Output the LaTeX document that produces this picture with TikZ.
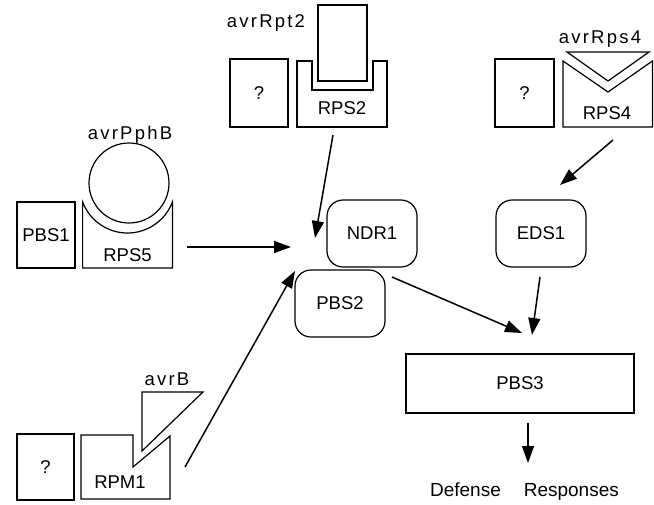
\documentclass[tikz,border=0pt]{standalone}
\usepackage{fontspec}
\setmainfont{Liberation Sans}
\newfontfamily\avrfont[LetterSpace=12]{Liberation Sans}
\usetikzlibrary{arrows.meta}
\begin{document}
\begin{tikzpicture}[x=1pt,y=-1pt, line width=1.2pt,
  every node/.style={font=\fontsize{18.5}{20}\selectfont, inner sep=0pt, outer sep=0pt},
  box/.style={draw, rectangle},
  rbox/.style={draw, rounded corners=16pt, minimum width=90pt, minimum height=67pt},
  avr/.style={font=\fontsize{18.5}{20}\selectfont\avrfont, anchor=base},
  arr/.style={-{Triangle[length=17pt,width=12pt]}, line width=1.5pt}]
\useasboundingbox (0,0) rectangle (654,504);

% plain boxes
\node[box, minimum width=58pt, minimum height=68pt] (q1) at (259,93) {?};
\node[box, minimum width=59pt, minimum height=68pt] (q2) at (524.5,93) {?};
\node[box, minimum width=57pt, minimum height=66pt] (q3) at (45.5,467) {?};
\node[box, minimum width=58pt, minimum height=66pt] (pbs1) at (46,235) {PBS1};
\node[box, minimum width=49pt, minimum height=76pt] (rpt2) at (342.5,43) {};
\node[box, minimum width=228pt, minimum height=59pt] (pbs3) at (520,383.5) {PBS3};

% rounded boxes
\node[rbox] (ndr1) at (372,233.5) {NDR1};
\node[rbox] (pbs2) at (340,303.5) {PBS2};
\node[rbox] (eds1) at (541,233.5) {EDS1};

% RPS2 receptor (U shape)
\draw (297,61) -- (297,127) -- (387,127) -- (387,61) -- (373,61) -- (373,90) -- (312,90) -- (312,61) -- cycle;
\node (rps2) at (342,108) {RPS2};
\node[avr] (lrpt2) at (266,27) {avrRpt2};

% RPS4 receptor (V notch)
\draw (563,61) -- (608,92) -- (652.4,61) -- (652.4,127) -- (563,127) -- cycle;
\draw (567,52) -- (649,52) -- (608,81) -- cycle;
\node (rps4) at (607,113) {RPS4};
\node[avr] (lrps4) at (600,43) {avrRps4};

% RPS5 receptor (cup) with avrPphB
\node[draw, circle, minimum size=80pt] (pph) at (129,183) {};
\draw (172.4,268) -- (172.4,202) arc[start angle=339.3, end angle=200.7, radius=48pt] -- (82.6,268) -- cycle;
\node (rps5) at (127.5,255) {RPS5};
\node[avr] (lpph) at (130,139.5) {avrPphB};

% RPM1 receptor with avrB
\draw (81,435) -- (133,435) -- (133,467) -- (170,436) -- (170,499) -- (81,499) -- cycle;
\draw (142,392) -- (203,392) -- (142,451) -- cycle;
\node (rpm1) at (120,482) {RPM1};
\node[avr] (lavrb) at (167,385) {avrB};

% output
\node[font=\fontsize{19}{20}\selectfont, anchor=base] (def) at (524.5,496) {Defense\hspace{23pt}Responses};

% arrow end points
\coordinate (s1) at (187,247);  \coordinate (e1) at (291,247);
\coordinate (s2) at (333,135);  \coordinate (e2) at (315,238);
\coordinate (s3) at (185,467);  \coordinate (e3) at (295,271);
\coordinate (s4) at (613,140);  \coordinate (e4) at (560,185);
\coordinate (s5) at (392,277);  \coordinate (e5) at (522,333);
\coordinate (s6) at (540,277);  \coordinate (e6) at (532,335);
\coordinate (s7) at (528,423);  \coordinate (e7) at (528,463);

\draw[arr] (s1) -- (e1);
\draw[arr] (s2) -- (e2);
\draw[arr] (s3) -- (e3);
\draw[arr] (s4) -- (e4);
\draw[arr] (s5) -- (e5);
\draw[arr] (s6) -- (e6);
\draw[arr] (s7) -- (e7);
\end{tikzpicture}
\end{document}
